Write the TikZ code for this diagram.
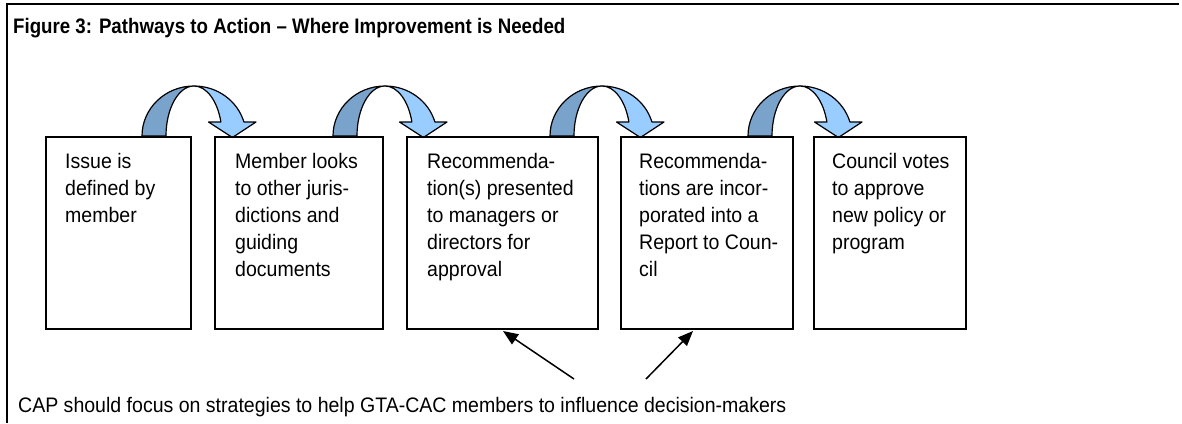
\documentclass[tikz,border=0pt]{standalone}
\usepackage{fontspec}
\setmainfont{Liberation Sans}
\usetikzlibrary{arrows.meta,calc}
\definecolor{arrowdark}{RGB}{122,163,204}
\definecolor{arrowlight}{RGB}{153,204,255}
\tikzset{
  stepbox/.style={draw, line width=1.6pt, inner sep=0pt, anchor=north west, minimum height=192pt},
  bodyfont/.style={font=\fontsize{21}{27}\selectfont, xscale=0.93},
  boxtext/.style={bodyfont, anchor=north west, inner sep=0pt, align=left},
  bendarrow/.style={draw=black, line width=1.2pt, line join=round},
  pointer/.style={line width=1.5pt, -{Triangle[length=15pt,width=12pt]}},
  frameline/.style={line width=2.4pt},
}
\begin{document}
\begin{tikzpicture}[x=1pt,y=1pt]
\fill[white] (0,0) rectangle (1182,-423);
\useasboundingbox (0,0) rectangle (1182,-423);

% figure frame: top and left rules
\draw[frameline] (7,-423) -- (7,-4) -- (1179,-4);

% title
\node[anchor=base west, inner sep=0pt, font=\bfseries\fontsize{21}{25}\selectfont, xscale=0.89] (title) at (13,-33)
  {Figure 3: Pathways to Action – Where Improvement is Needed};

% curved arrows between the steps
\foreach \L in {142,333,550,748} {
  \pgfmathsetmacro\c{\L+52}
  \filldraw[bendarrow, fill=arrowdark] (\L,-136)
    arc[start angle=180, end angle=90, x radius=52, y radius=50]
    arc[start angle=90, end angle=180, x radius=28, y radius=50] -- cycle;
  \filldraw[bendarrow, fill=arrowlight] (\c,-86)
    arc[start angle=90, end angle=16.26, x radius=52, y radius=50]
    -- (\c+62,-122) -- (\c+38.4,-137.5) -- (\c+14.5,-122) -- (\c+26.9,-122)
    arc[start angle=16.26, end angle=90, x radius=28, y radius=50] -- cycle;
}

% step boxes
\node[stepbox, minimum width=145pt] (b1) at (45,-136) {};
\node[stepbox, minimum width=168pt] (b2) at (214,-136) {};
\node[stepbox, minimum width=191pt] (b3) at (406,-136) {};
\node[stepbox, minimum width=172pt] (b4) at (620,-136) {};
\node[stepbox, minimum width=152pt] (b5) at (813,-136) {};

% step texts (strut height 0.7 x 27 = 18.9 above the first baseline)
\node[boxtext] (t1) at (65,-149) {\strut Issue is\\defined by\\member};
\node[boxtext] (t2) at (235,-149) {\strut Member looks\\to other juris-\\dictions and\\guiding\\documents};
\node[boxtext] (t3) at (427,-149) {\strut Recommenda-\\tion(s) presented\\to managers or\\directors for\\approval};
\node[boxtext] (t4) at (639,-149) {\strut Recommenda-\\tions are incor-\\porated into a\\Report to Coun-\\cil};
\node[boxtext] (t5) at (832,-149) {\strut Council votes\\to approve\\new policy or\\program};

% note and its pointers
\node[bodyfont, anchor=base west, inner sep=0pt] (note) at (18,-412)
  {CAP should focus on strategies to help GTA-CAC members to influence decision-makers};
\coordinate (s1) at (574,-379);
\coordinate (e1) at (503,-331);
\coordinate (s2) at (646,-379);
\coordinate (e2) at (693,-331);
\draw[pointer] (s1) -- (e1);
\draw[pointer] (s2) -- (e2);
\end{tikzpicture}
\end{document}
